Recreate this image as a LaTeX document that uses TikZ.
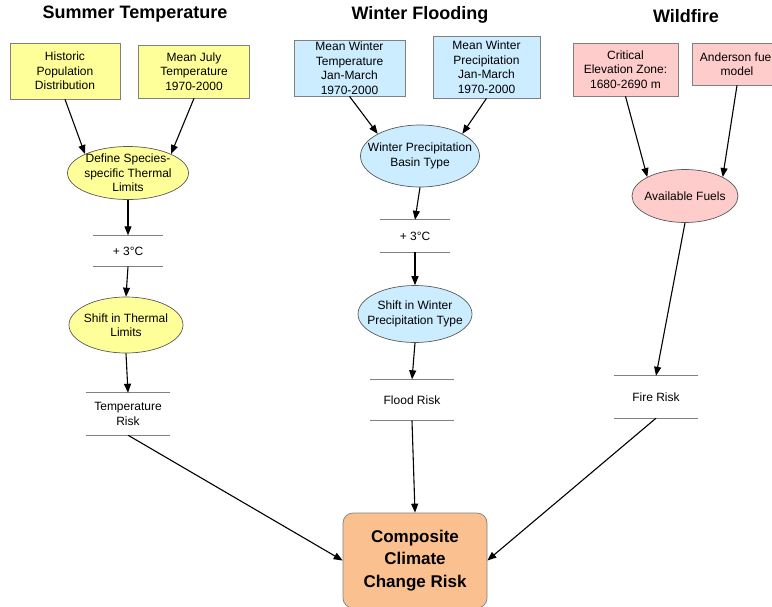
\documentclass[tikz,border=0pt]{standalone}
\usepackage{fontspec}
\setmainfont{Liberation Sans}
\usetikzlibrary{shapes.geometric,arrows.meta}
\definecolor{ylw}{HTML}{FFFF99}
\definecolor{blu}{HTML}{CCECFF}
\definecolor{pnk}{HTML}{FFCCCC}
\definecolor{org}{HTML}{FAC090}
\tikzset{
  mybox/.style={
    draw=gray, rectangle, inner sep=0mm, align=center, line width=0.7pt,
    font=\fontsize{12}{14.5}\selectfont
  },
  myell/.style={
    draw=black!65, ellipse, inner sep=0mm, line width=0.7pt
  },
  etext/.style={
    align=center, inner sep=0mm, font=\fontsize{12}{14.5}\selectfont
  },
  risk/.style={
    rectangle, inner sep=0mm, align=center, font=\fontsize{12}{14.5}\selectfont
  },
  sep/.style={gray, line width=0.8pt},
  myarrow/.style={-{Triangle[length=9pt,width=7pt]}, line width=1.1pt},
  title/.style={font=\fontsize{18}{20}\selectfont\bfseries}
}

\begin{document}
\begin{tikzpicture}[x=1pt,y=-1pt]
 \useasboundingbox (0,0) rectangle (772,606);
 \clip (0,0) rectangle (772,606);

 % titles
 \node[title] (tsum) at (135,14) {Summer Temperature};
 \node[title] (twin) at (420,15) {Winter Flooding};
 \node[title] (twf) at (686,16) {Wildfire};

 % summer temperature
 \node[mybox, fill=ylw, minimum width=110, minimum height=56] (hpd) at (65,71) {Historic\\Population\\Distribution};
 \node[mybox, fill=ylw, minimum width=111, minimum height=53] (mjt) at (194,71.5) {Mean July\\Temperature\\1970-2000};
 \node[myell, fill=ylw, minimum width=121, minimum height=53, label={[etext]center:{Define Species-\\specific Thermal\\Limits}}] (dsl) at (128,173) {};
 \node[risk, minimum width=70, minimum height=31] (sdeg) at (128,251) {+ 3°C};
 \node[myell, fill=ylw, minimum width=114, minimum height=56, label={[etext]center:{Shift in Thermal\\Limits}}] (stl) at (126,325) {};
 \node[risk, minimum width=83, minimum height=42] (trisk) at (128,414) {Temperature\\Risk};

 % winter flooding
 \node[mybox, fill=blu, minimum width=111, minimum height=56] (mwt) at (349.5,68) {Mean Winter\\Temperature\\Jan-March\\1970-2000};
 \node[mybox, fill=blu, minimum width=107, minimum height=62] (mwp) at (486.5,67) {Mean Winter\\Precipitation\\Jan-March\\1970-2000};
 \node[myell, fill=blu, minimum width=119, minimum height=62, label={[etext]center:{Winter Precipitation\\Basin Type}}] (wpb) at (420,156) {};
 \node[risk, minimum width=69, minimum height=32] (wdeg) at (415,236) {+ 3°C};
 \node[myell, fill=blu, minimum width=114, minimum height=57, label={[etext]center:{Shift in Winter\\Precipitation Type}}] (swp) at (415,314) {};
 \node[risk, minimum width=83, minimum height=41] (frisk) at (412,400) {Flood Risk};

 % wildfire
 \node[mybox, fill=pnk, minimum width=105, minimum height=53] (cez) at (625.5,69.5) {Critical\\Elevation Zone:\\1680-2690 m};
 \node[mybox, fill=pnk, minimum width=90, minimum height=42] (afm) at (737,64) {Anderson fuel\\model};
 \node[myell, fill=pnk, minimum width=106, minimum height=53, label={[etext]center:{Available Fuels}}] (avf) at (685,196) {};
 \node[risk, minimum width=83, minimum height=42] (firisk) at (656,397) {Fire Risk};

 % composite
 \node[mybox, fill=org, rounded corners=10, minimum width=144, minimum height=95, font=\fontsize{17}{22.5}\selectfont\bfseries] (ccr) at (415,560.5) {Composite\\Climate\\Change Risk};

 \foreach \n in {sdeg,trisk,wdeg,frisk,firisk} {
   \draw[sep] (\n.north west) -- (\n.north east);
   \draw[sep] (\n.south west) -- (\n.south east);
 }

 \draw[myarrow] (hpd.south) -- (dsl.north west);
 \draw[myarrow] (mjt.south) -- (dsl.north east);
 \draw[myarrow] (dsl.south) -- (sdeg.north);
 \draw[myarrow] (sdeg.south) -- (stl.north);
 \draw[myarrow] (stl.south) -- (trisk.north);
 \draw[myarrow] (trisk.south) -- (ccr.west);

 \draw[myarrow] (mwt.south) -- (wpb.north west);
 \draw[myarrow] (mwp.south) -- (wpb.north east);
 \draw[myarrow] (wpb.south) -- (wdeg.north);
 \draw[myarrow] (wdeg.south) -- (swp.north);
 \draw[myarrow] (swp.south) -- (frisk.north);
 \draw[myarrow] (frisk.south) -- (ccr.north);

 \draw[myarrow] (cez.south) -- (avf.north west);
 \draw[myarrow] (afm.south) -- (avf.north east);
 \draw[myarrow] (avf.south) -- (firisk.north);
 \draw[myarrow] (firisk.south) -- (ccr.east);
\end{tikzpicture}
\end{document}
